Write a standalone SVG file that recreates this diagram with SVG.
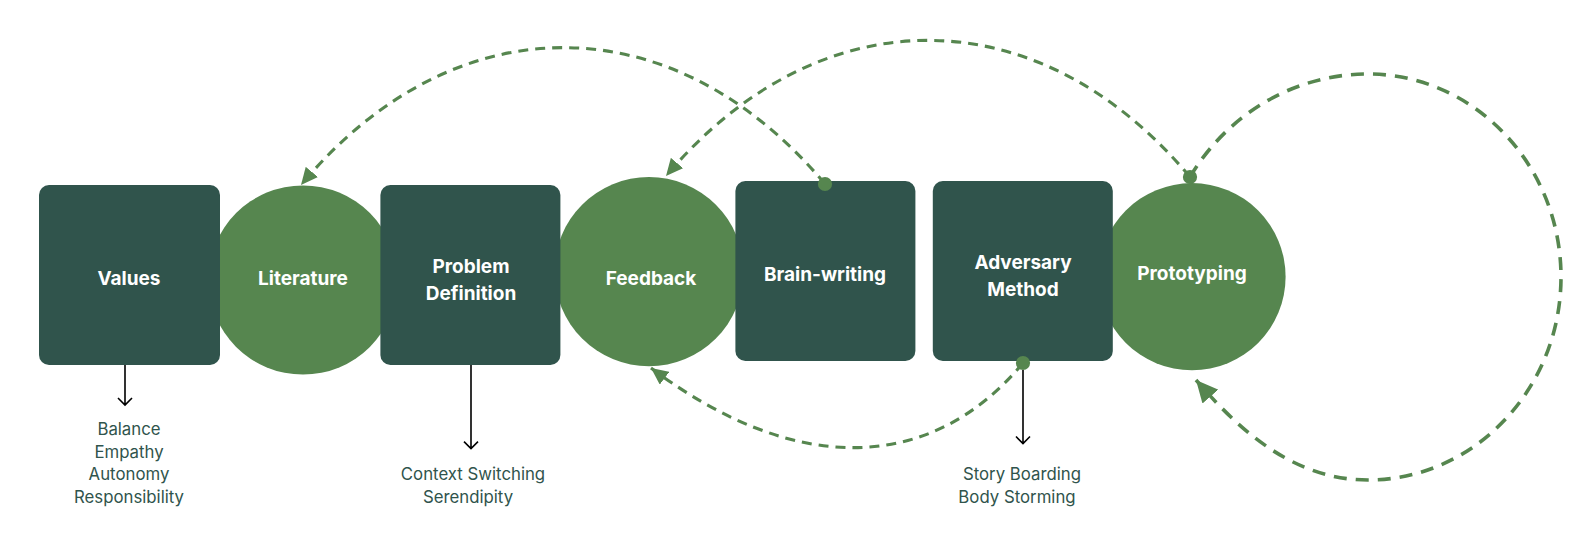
<svg xmlns="http://www.w3.org/2000/svg" width="1595" height="548" viewBox="0 0 1595 548">
<style>
.box{fill:#30544c}
.circ{fill:#56864f}
.lbl{font-family:Inter,"Liberation Sans",sans-serif;font-weight:700;font-size:19px;fill:#ffffff;text-anchor:middle}
.sub{font-family:Inter,"Liberation Sans",sans-serif;font-weight:400;font-size:16.8px;fill:#30544c;text-anchor:middle}
.dash{fill:none;stroke:#56864f;stroke-width:3.1;stroke-dasharray:10 7}
.loop{fill:none;stroke:#56864f;stroke-width:3.6;stroke-dasharray:13 9}
.blk{fill:none;stroke:#000000;stroke-width:1.6}
.dot{fill:#56864f}
</style>
<defs>
<marker id="ga" markerUnits="userSpaceOnUse" markerWidth="18" markerHeight="16" refX="17" refY="8" orient="auto">
<path d="M0,0 L17,8 L0,16 z" fill="#56864f"/>
</marker>
<marker id="gb" markerUnits="userSpaceOnUse" markerWidth="23" markerHeight="21" refX="22" refY="10.5" orient="auto">
<path d="M0,0 L22,10.5 L0,21 z" fill="#56864f"/>
</marker>
</defs>
<rect width="1595" height="548" fill="#ffffff"/>
<g id="literature"><circle class="circ" cx="303" cy="280" r="94.6"/><text class="lbl" x="303" y="284.5">Literature</text></g>
<g id="feedback"><circle class="circ" cx="649" cy="271.6" r="94.6"/><text class="lbl" x="651" y="284.5">Feedback</text></g>
<g id="prototyping"><circle class="circ" cx="1192" cy="276.7" r="93.6"/><text class="lbl" x="1192" y="280.2">Prototyping</text></g>
<g id="values"><rect class="box" x="39" y="185" width="181" height="180" rx="10"/><text class="lbl" x="129" y="284.5">Values</text></g>
<g id="problem-definition"><rect class="box" x="380.4" y="185" width="180" height="180" rx="10"/><text class="lbl" x="471" y="273">Problem</text><text class="lbl" x="471" y="299.6">Definition</text></g>
<g id="brain-writing"><rect class="box" x="735.4" y="181" width="180" height="180" rx="10"/><text class="lbl" x="825" y="281.3">Brain-writing</text></g>
<g id="adversary-method"><rect class="box" x="932.8" y="181" width="180" height="180" rx="10"/><text class="lbl" x="1023" y="269">Adversary</text><text class="lbl" x="1023" y="295.5">Method</text></g>
<g id="connectors">
<path class="dash" d="M825,184 C672.4,2 453.7,2 301,185" marker-end="url(#ga)"/>
<path class="dash" d="M1190,177 C1037.5,-5 819,-5 666,176" marker-end="url(#ga)"/>
<path class="dash" d="M1023,363 C929.7,475 793.4,475 651,368" marker-end="url(#ga)"/>
<path class="loop" d="M1190,177 C1225,118 1290,74 1368,74 C1474,74 1561,165 1561,277 C1561,389 1474,480 1368,480 C1290,480 1235,425 1196,380" marker-end="url(#gb)"/>
<circle class="dot" cx="825" cy="184" r="7.1"/>
<circle class="dot" cx="1190" cy="177" r="7.1"/>
<circle class="dot" cx="1023" cy="363" r="7.1"/>
<path class="blk" d="M125,365 V405 M118,398 L125,405 L132,398"/>
<path class="blk" d="M471,365 V448.6 M464,441.6 L471,448.6 L478,441.6"/>
<path class="blk" d="M1023,370 V443.5 M1016,436.5 L1023,443.5 L1030,436.5"/>
</g>
<g id="values-items">
<text class="sub" x="129" y="435">Balance</text>
<text class="sub" x="129" y="457.5">Empathy</text>
<text class="sub" x="129" y="480">Autonomy</text>
<text class="sub" x="129" y="502.5">Responsibility</text>
</g>
<g id="problem-items">
<text class="sub" x="473" y="480">Context Switching</text>
<text class="sub" x="468" y="502.5">Serendipity</text>
</g>
<g id="adversary-items">
<text class="sub" x="1022" y="480">Story Boarding</text>
<text class="sub" x="1017" y="502.5">Body Storming</text>
</g>
</svg>
